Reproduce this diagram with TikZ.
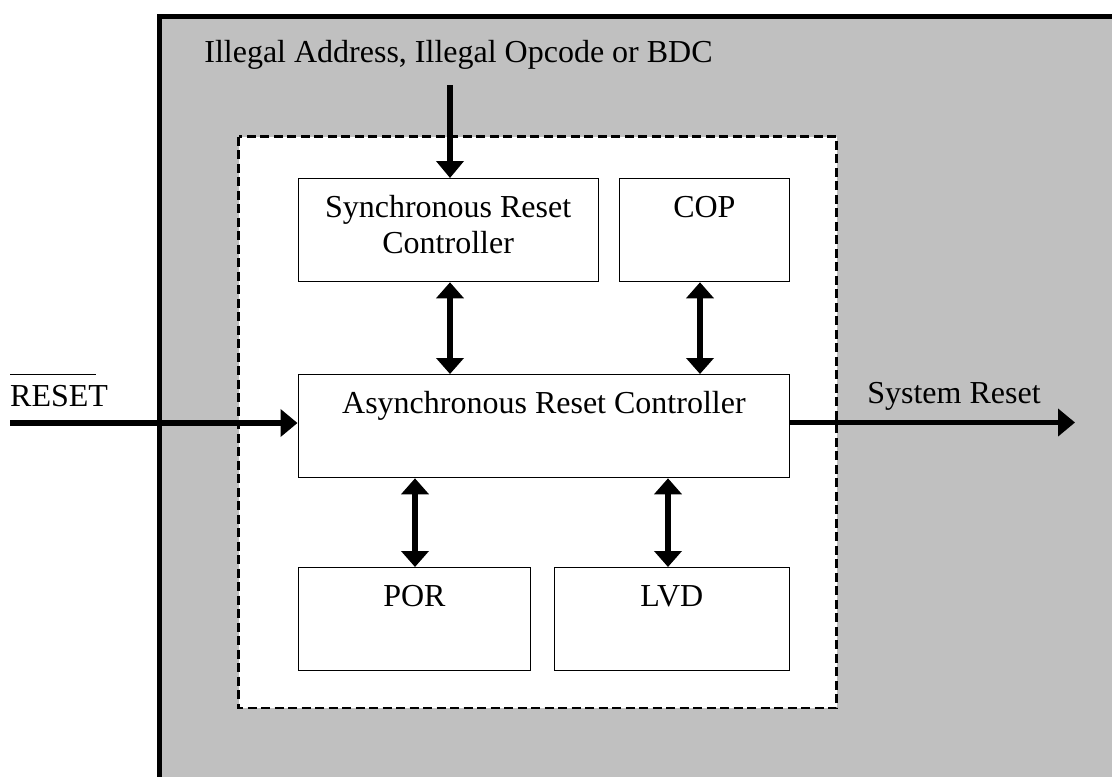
\documentclass[tikz,border=0pt]{standalone}
\usepackage{fontspec}
\setmainfont{Liberation Serif}
\usetikzlibrary{arrows.meta}
\definecolor{panelgray}{HTML}{C0C0C0}
\tikzset{
  blk/.style={draw, line width=1.3pt, fill=white, inner sep=0pt, anchor=north west,
              text height=39pt, text depth=64pt},
  sig/.style={line width=5.5pt, -{Triangle[length=17pt,width=27pt]}},
  bisig/.style={line width=5.5pt,
                {Triangle[length=16pt,width=27pt]}-{Triangle[length=16pt,width=27pt]}},
  lbl/.style={inner sep=0pt, anchor=base},
}
\begin{document}
\begin{tikzpicture}[x=1pt,y=-1pt,font=\fontsize{32}{36}\selectfont]
\useasboundingbox (0,0) rectangle (1112,777);
% module area with heavy left/top border
\fill[panelgray] (159.5,16.5) rectangle (1115,780);
\draw[line width=5pt] (159.5,780) -- (159.5,16.5) -- (1115,16.5);
% reset block boundary
\draw[fill=white, line width=2.8pt, dash pattern=on 9pt off 4.5pt]
  (238.5,136.5) rectangle (836.5,708);

% blocks
\node[blk, minimum width=300pt] (sync) at (297.5,178)
  {\begin{tabular}[t]{@{}c@{}}Synchronous Reset\\Controller\end{tabular}};
\node[blk, minimum width=170.5pt] (cop) at (618.5,178) {COP};
\node[blk, minimum width=491.5pt] (async) at (297.5,374) {Asynchronous Reset Controller};
\node[blk, minimum width=232.5pt] (por) at (297.5,567) {POR};
\node[blk, minimum width=235.5pt] (lvd) at (553.5,567) {LVD};

% labels
\node[lbl] (illtxt) at (458.5,62) {Illegal Address, Illegal Opcode or BDC};
\node[lbl] (systxt) at (954,403) {System Reset};
\node[lbl, anchor=base west] (rsttxt) at (10,406) {\rlap{\rule[31pt]{86pt}{1.4pt}}RESET};

% connector columns and free ends
\coordinate (xs) at (450,0);
\coordinate (xc) at (700,0);
\coordinate (xp) at (415,0);
\coordinate (xl) at (668,0);
\coordinate (illin) at (450,85);
\coordinate (rstin) at (10,423);
\coordinate (sysout) at (1075,422.5);

\draw[sig] (illin) -- (sync.north -| illin);
\draw[bisig] (sync.south -| xs) -- (async.north -| xs);
\draw[bisig] (cop.south -| xc) -- (async.north -| xc);
\draw[bisig] (async.south -| xp) -- (por.north -| xp);
\draw[bisig] (async.south -| xl) -- (lvd.north -| xl);
\draw[sig] (rstin) -- (async.west |- rstin);
\draw[sig] (async.east |- sysout) -- (sysout);
\end{tikzpicture}
\end{document}
